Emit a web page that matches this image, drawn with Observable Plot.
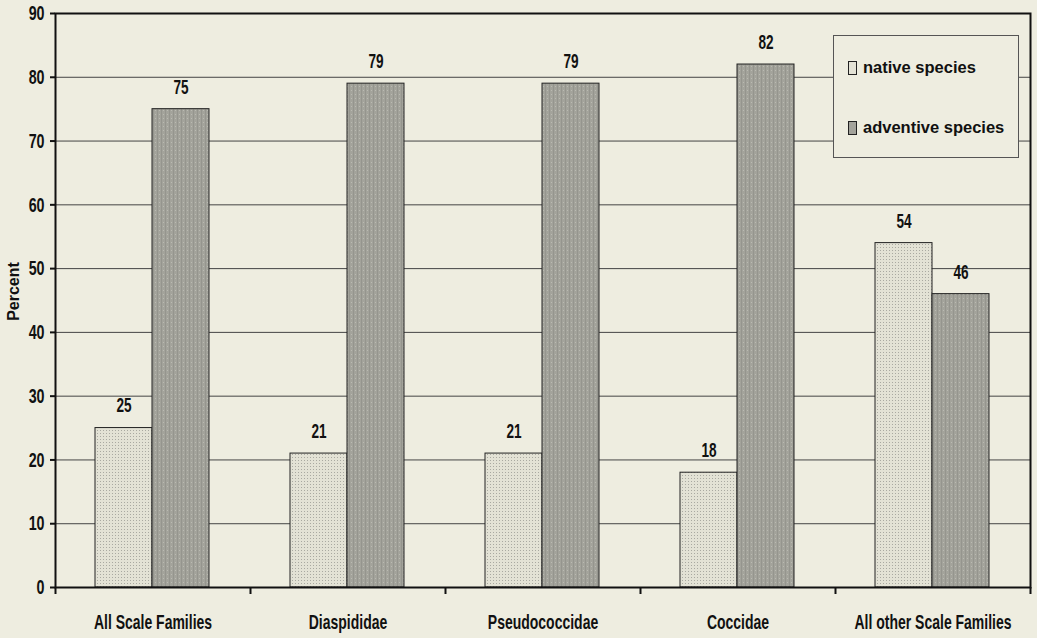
<!DOCTYPE html>
<html>
<head>
<meta charset="utf-8">
<script src="https://cdn.jsdelivr.net/npm/d3@7"></script>
<script src="https://cdn.jsdelivr.net/npm/@observablehq/plot@0.6"></script>
<style>
  html, body { margin: 0; padding: 0; background: #eeede0; }
  #wrap { position: relative; width: 1037px; height: 638px; }
  #legend {
    position: absolute; left: 833px; top: 35px; width: 186px; height: 123px;
    border: 1px solid #555; background: #eeede0; box-sizing: border-box;
    font-family: "Liberation Sans", Arial, sans-serif; font-weight: bold; font-size: 16.5px; color: #111;
  }
  #legend .item { position: absolute; left: 14px; display: flex; align-items: center; }
  #legend .sw { width: 9px; height: 14px; border: 1px solid #222; margin-right: 6px; box-sizing: border-box; }
</style>
</head>
<body>
<div id="wrap">
  <div id="chart"></div>
  <div id="legend">
    <div class="item" style="top:22px"><span class="sw" style="background:#e3e2d5"></span>native species</div>
    <div class="item" style="top:82px"><span class="sw" style="background:#a3a39b"></span>adventive species</div>
  </div>
</div>
<script>
const categories = ["All Scale Families", "Diaspididae", "Pseudococcidae", "Coccidae", "All other Scale Families"];
const nativeValues = [25, 21, 21, 18, 54];
const adventiveValues = [75, 79, 79, 82, 46];
const yTicks = [0, 10, 20, 30, 40, 50, 60, 70, 80, 90];
const gridTicks = [10, 20, 30, 40, 50, 60, 70, 80];
const seriesNames = ["native species", "adventive species"];

const nativeData = categories.map((c, i) => ({category: c, value: nativeValues[i]}));
const adventiveData = categories.map((c, i) => ({category: c, value: adventiveValues[i]}));

const NATIVE = "#e3e2d5", ADV = "#a3a39b";
const sans = "'Liberation Sans', Arial, sans-serif";

const chart = Plot.plot({
  width: 1037,
  height: 638,
  marginLeft: 55,
  marginRight: 7,
  marginTop: 13,
  marginBottom: 51,
  style: {background: "#eeede0", fontFamily: sans, color: "#111"},
  x: {domain: categories, padding: 0, label: null},
  y: {domain: [0, 90], label: null},
  marks: [
    Plot.ruleY(gridTicks, {stroke: "#444", strokeWidth: 1}),
    Plot.barY(nativeData, {x: "category", y: "value", fill: NATIVE, stroke: "#222", strokeWidth: 1, insetLeft: 40, insetRight: 98}),
    Plot.barY(adventiveData, {x: "category", y: "value", fill: ADV, stroke: "#222", strokeWidth: 1, insetLeft: 97, insetRight: 41}),
    Plot.text(nativeData, {x: "category", y: "value", text: d => String(d.value), dx: -29, dy: -22, fontSize: 20, fontWeight: "bold", fill: "#111"}),
    Plot.text(adventiveData, {x: "category", y: "value", text: d => String(d.value), dx: 28, dy: -22, fontSize: 20, fontWeight: "bold", fill: "#111"}),
    Plot.axisY({ticks: yTicks, tickSize: 5, tickPadding: 6, fontSize: 21, fontWeight: "bold", stroke: "#111", strokeWidth: 2, label: null}),
    Plot.axisX({tickSize: 0, tickPadding: 27, fontSize: 20, fontWeight: "bold", label: null}),
    Plot.axisX({tickSize: 7, text: null, dx: -97.5, stroke: "#111", strokeWidth: 2, label: null}),
    Plot.axisX({ticks: [categories[categories.length - 1]], tickSize: 7, text: null, dx: 97.5, stroke: "#111", strokeWidth: 2, label: null}),
    Plot.frame({stroke: "#111", strokeWidth: 2}),
    Plot.text(["Percent"], {frameAnchor: "left", textAnchor: "middle", dx: -42, dy: -9, rotate: -90, fontSize: 16, fontWeight: "bold", fill: "#111"})
  ]
});
document.getElementById("chart").appendChild(chart);

// emulate the strongly condensed face of the original: squeeze each text horizontally about its anchor
chart.querySelectorAll("text").forEach(t => {
  if (t.textContent === "Percent") return;
  const s = t.textContent.length > 3 ? 0.70 : 0.68;
  const ax = parseFloat(t.getAttribute("x") || "0") || 0;
  const prev = t.getAttribute("transform") || "";
  t.setAttribute("transform", `${prev} translate(${ax},0) scale(${s},1) translate(${-ax},0)`.trim());
});

// dotted textures for the bars
const svgNS = "http://www.w3.org/2000/svg";
const defs = document.createElementNS(svgNS, "defs");
defs.innerHTML = `
  <pattern id="patNative" width="3" height="3" patternUnits="userSpaceOnUse">
    <rect width="3" height="3" fill="${NATIVE}"/>
    <rect x="1" y="1" width="1" height="1" fill="#a9a9a1"/>
  </pattern>
  <pattern id="patAdv" width="4" height="4" patternUnits="userSpaceOnUse">
    <rect width="4" height="4" fill="${ADV}"/>
    <rect x="1" y="0" width="1" height="4" fill="#95958e"/>
    <rect x="3" y="2" width="1" height="1" fill="#babab2"/>
  </pattern>`;
chart.insertBefore(defs, chart.firstChild);
chart.querySelectorAll(`g[fill="${NATIVE}"]`).forEach(g => g.setAttribute("fill", "url(#patNative)"));
chart.querySelectorAll(`g[fill="${ADV}"]`).forEach(g => g.setAttribute("fill", "url(#patAdv)"));
</script>
</body>
</html>
